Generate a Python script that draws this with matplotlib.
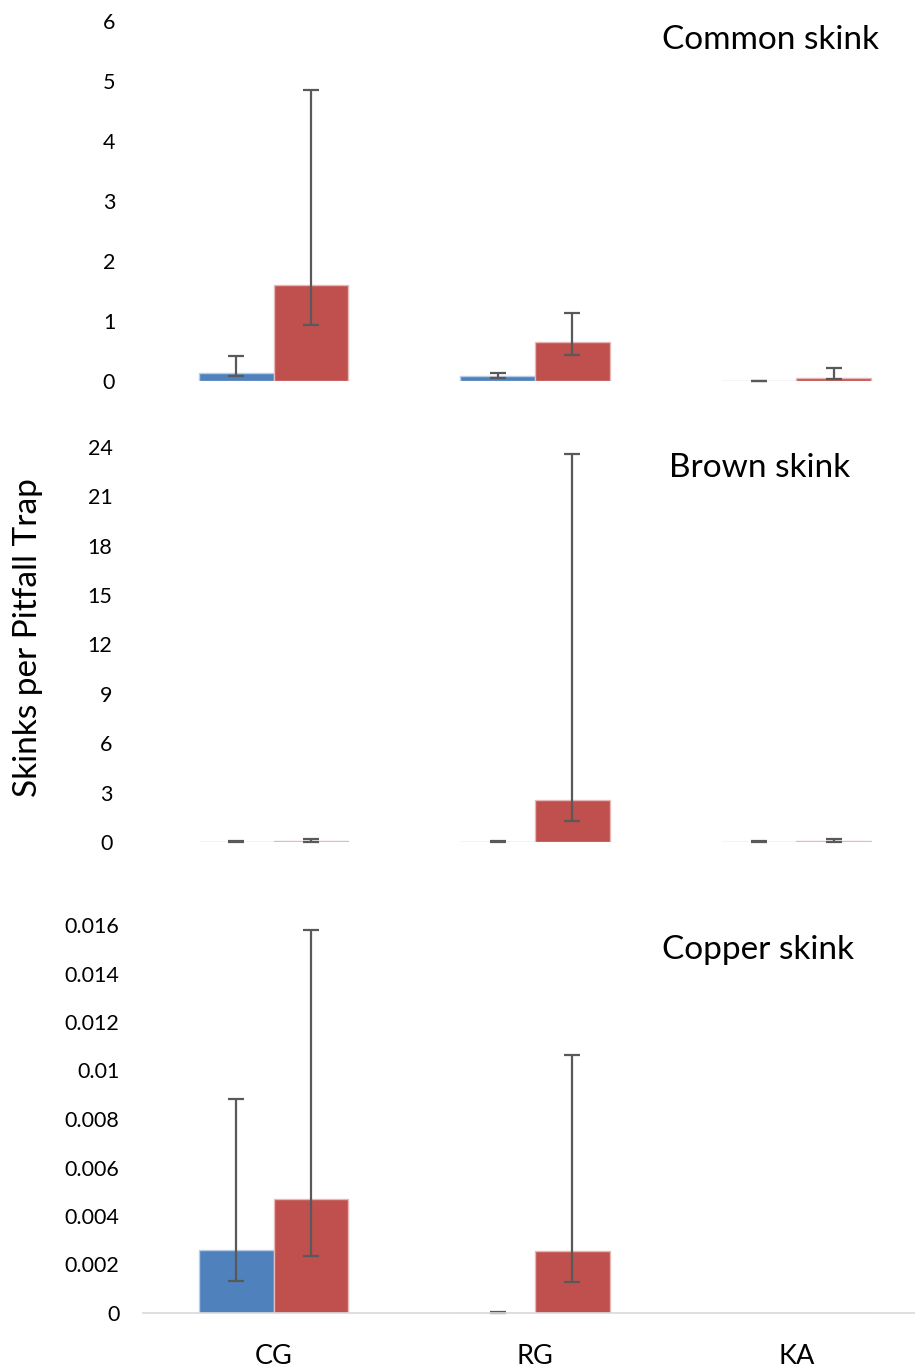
import matplotlib
matplotlib.use("Agg")
import matplotlib.pyplot as plt
import numpy as np

plt.rcParams['font.family'] = ['Lato', 'DejaVu Sans']

categories = ["CG", "RG", "KA"]

# Common skink
common_blue = [0.14, 0.08, 0.003]
common_blue_lo = [0.08, 0.05, 0.0]
common_blue_hi = [0.42, 0.13, 0.005]
common_red = [1.60, 0.65, 0.055]
common_red_lo = [0.93, 0.43, 0.03]
common_red_hi = [4.85, 1.13, 0.22]

# Brown skink
brown_blue = [0.02, 0.01, 0.01]
brown_blue_lo = [0.01, 0.005, 0.005]
brown_blue_hi = [0.06, 0.04, 0.04]
brown_red = [0.06, 2.55, 0.06]
brown_red_lo = [0.03, 1.28, 0.03]
brown_red_hi = [0.16, 23.6, 0.16]

# Copper skink
copper_blue = [0.00259, 0.0, 0.0]
copper_blue_lo = [0.00131, 0.0, 0.0]
copper_blue_hi = [0.00882, 0.00003, 0.0]
copper_red = [0.0047, 0.00254, 0.0]
copper_red_lo = [0.00236, 0.00128, 0.0]
copper_red_hi = [0.0158, 0.01064, 0.0]

panels = [
    ("Common skink", common_blue, common_blue_lo, common_blue_hi,
     common_red, common_red_lo, common_red_hi, 6, [0, 1, 2, 3, 4, 5, 6], None),
    ("Brown skink", brown_blue, brown_blue_lo, brown_blue_hi,
     brown_red, brown_red_lo, brown_red_hi, 24, [0, 3, 6, 9, 12, 15, 18, 21, 24], None),
    ("Copper skink", copper_blue, copper_blue_lo, copper_blue_hi,
     copper_red, copper_red_lo, copper_red_hi, 0.016,
     [0, 0.002, 0.004, 0.006, 0.008, 0.01, 0.012, 0.014, 0.016],
     ["0", "0.002", "0.004", "0.006", "0.008", "0.01", "0.012", "0.014", "0.016"]),
]

W, H = 915, 1369
fig = plt.figure(figsize=(W / 100, H / 100), dpi=100)

ypix = [(381, 21), (842, 447), (1313, 925)]
left_px, right_px = 143, 915
title_pos = [(770, 40), (760, 468), (758, 950)]
ytick_pad = [20, 22, 17]

blue = "#4F81BD"
red = "#C0504D"
blue_edge = "#B9CDE5"
red_edge = "#E6B9B8"
err_col = "#595959"

x = np.arange(len(categories))
bw = 0.286

for i, (title, b, blo, bhi, r, rlo, rhi, ymax, ticks, tlabels) in enumerate(panels):
    bpx, tpx = ypix[i]
    ax = fig.add_axes([left_px / W, 1 - bpx / H, (right_px - left_px) / W, (bpx - tpx) / H])
    b = np.array(b); r = np.array(r)
    ax.bar(x - bw / 2, b, bw, color=blue, edgecolor=blue_edge, linewidth=1)
    ax.bar(x + bw / 2, r, bw, color=red, edgecolor=red_edge, linewidth=1)
    if i == 2:
        mask_b = np.array([True, True, False])
        mask_r = np.array([True, True, False])
    else:
        mask_b = np.ones(3, bool)
        mask_r = np.ones(3, bool)
    eb = np.array([b - np.array(blo), np.array(bhi) - b])
    er = np.array([r - np.array(rlo), np.array(rhi) - r])
    ax.errorbar((x - bw / 2)[mask_b], b[mask_b], yerr=eb[:, mask_b], fmt='none',
                ecolor=err_col, elinewidth=1.6, capsize=6, capthick=1.6, clip_on=False)
    ax.errorbar((x + bw / 2)[mask_r], r[mask_r], yerr=er[:, mask_r], fmt='none',
                ecolor=err_col, elinewidth=1.6, capsize=6, capthick=1.6, clip_on=False)
    ax.set_xlim(-0.5, (right_px - 272) / 262)
    ax.set_ylim(0, ymax)
    ax.set_yticks(ticks)
    if tlabels is not None:
        ax.set_yticklabels(tlabels)
    ax.tick_params(axis='y', length=0, pad=ytick_pad[i], labelsize=15.5)
    ax.tick_params(axis='x', length=0)
    for s in ["top", "right", "left"]:
        ax.spines[s].set_visible(False)
    if i == 2:
        ax.spines["bottom"].set_color("#D9D9D9")
        ax.spines["bottom"].set_linewidth(1.2)
        ax.set_xticks(x)
        ax.set_xticklabels(categories, fontsize=19.5)
        ax.tick_params(axis='x', pad=22)
    else:
        ax.spines["bottom"].set_visible(False)
        ax.set_xticks([])
    tx, ty = title_pos[i]
    fig.text(tx / W, 1 - ty / H, title, fontsize=24, ha='center', va='center')

fig.text(28 / W, 1 - 638 / H, "Skinks per Pitfall Trap", rotation=90,
         fontsize=24, ha='center', va='center')

fig.savefig("out.png", dpi=100)
